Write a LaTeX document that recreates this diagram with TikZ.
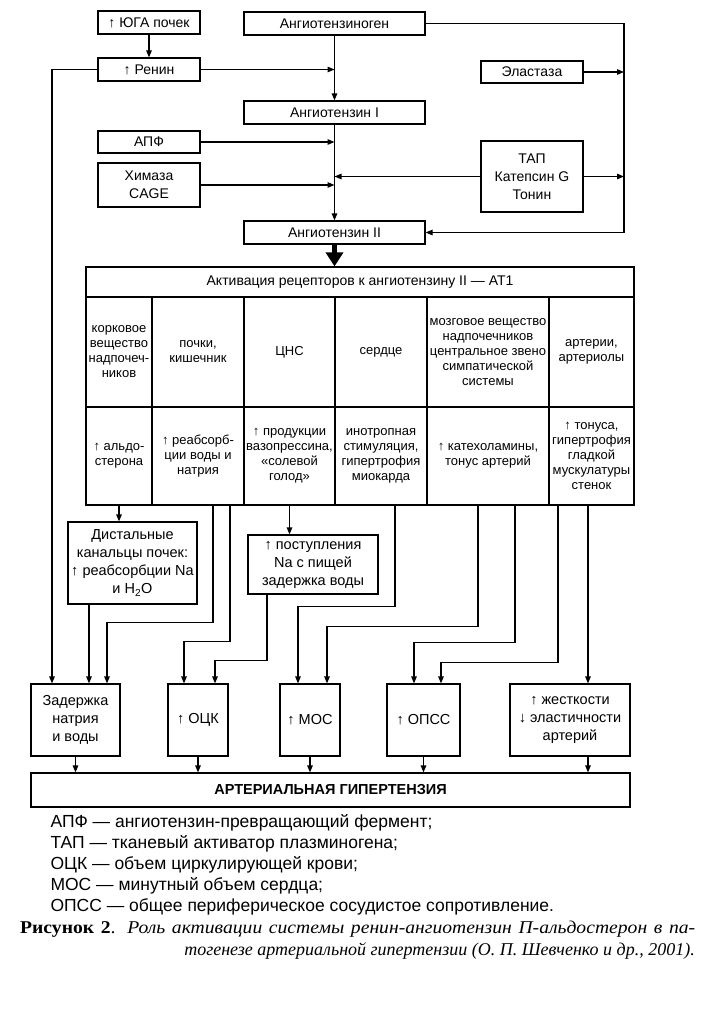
\documentclass[tikz,border=0pt]{standalone}
\usepackage{fontspec}
\setmainfont{Liberation Sans}
\newfontfamily\capfont{Liberation Serif}
\newfontfamily\capwide{Liberation Serif}[FakeStretch=1.09]
\usetikzlibrary{arrows.meta}
\newcommand{\boxfont}{\fontsize{14}{18}\selectfont}
\newcommand{\cellfont}{\fontsize{13}{15}\selectfont}
\newcommand{\midfont}{\fontsize{14.5}{18}\selectfont}
\newcommand{\legfont}{\fontsize{17.5}{21}\selectfont}
\tikzset{
  blk/.style={draw, line width=1.2pt, inner sep=1pt, align=center, font=\boxfont},
  cell/.style={blk, font=\cellfont},
  arr/.style={line width=1.2pt, -{Triangle[length=7pt,width=5.5pt]}},
}
\begin{document}
\begin{tikzpicture}[x=1pt,y=-1pt]
    \useasboundingbox (0,0) rectangle (714,1012);
    % cascade renin - angiotensin
    \node[blk, minimum width=102, minimum height=23] (yuga) at (149,22.5) {↑ ЮГА почек};
    \node[blk, minimum width=181, minimum height=23] (angen) at (334.5,23.5) {Ангиотензиноген};
    \node[blk, minimum width=102, minimum height=23] (renin) at (149,69.5) {↑ Ренин};
    \node[blk, minimum width=102, minimum height=22] (elast) at (532,72) {Эластаза};
    \node[blk, minimum width=181, minimum height=23] (ang1) at (334.5,112.5) {Ангиотензин I};
    \node[blk, minimum width=102, minimum height=22] (apf) at (149,142) {АПФ};
    \node[blk, minimum width=102, minimum height=44] (chym) at (149,185) {Химаза\\CAGE};
    \node[blk, minimum width=102, minimum height=71] (tap) at (532,176.5) {ТАП\\Катепсин G\\Тонин};
    \node[blk, minimum width=181, minimum height=23] (ang2) at (334.5,232.5) {Ангиотензин II};
    \coordinate (rt) at (624,23.5);

    \draw[arr] (yuga) -- (renin);
    \draw[arr] (angen) -- (ang1);
    \draw[arr] (ang1) -- (ang2);
    \draw[arr] (renin.east) -- (renin.east -| ang1.north);
    \draw[arr] (apf.east) -- (apf.east -| ang1.south);
    \draw[arr] (chym.east) -- (chym.east -| ang1.south);
    \draw[arr] (tap.west) -- (tap.west -| ang1.south);
    \draw[arr] (angen.east) -- (rt) |- (ang2.east);
    \draw[arr] (elast.east) -- (elast.east -| rt);
    \draw[arr] (tap.east) -- (tap.east -| rt);

    % AT1 receptors table
    \node[blk, minimum width=548, minimum height=30] (act) at (360,282) {Активация рецепторов к ангиотензину II — АТ1};
    \draw[line width=5pt, -{Triangle[length=14pt,width=17pt]}] (ang2.south) -- (ang2.south |- act.north);

    \node[cell, minimum width=66, minimum height=110] (o1) at (119,352) {корковое\\вещество\\надпочеч-\\ников};
    \node[cell, minimum width=92, minimum height=110] (o2) at (198,352) {почки,\\кишечник};
    \node[cell, minimum width=91, minimum height=110] (o3) at (289.5,352) {ЦНС};
    \node[cell, minimum width=92, minimum height=110] (o4) at (381,352) {сердце};
    \node[cell, minimum width=122, minimum height=110] (o5) at (488,352) {мозговое вещество\\надпочечников\\центральное звено\\симпатической\\системы};
    \node[cell, minimum width=85, minimum height=110] (o6) at (591.5,352) {артерии,\\артериолы};

    \node[cell, minimum width=66, minimum height=98] (f1) at (119,456) {↑ альдо-\\стерона};
    \node[cell, minimum width=92, minimum height=98] (f2) at (198,456) {↑ реабсорб-\\ции воды и\\натрия};
    \node[cell, minimum width=91, minimum height=98] (f3) at (289.5,456) {↑ продукции\\вазопрессина,\\«солевой\\голод»};
    \node[cell, minimum width=92, minimum height=98] (f4) at (381,456) {инотропная\\стимуляция,\\гипертрофия\\миокарда};
    \node[cell, minimum width=122, minimum height=98] (f5) at (488,456) {↑ катехоламины,\\тонус артерий};
    \node[cell, minimum width=85, minimum height=98] (f6) at (591.5,456) {↑ тонуса,\\гипертрофия\\гладкой\\мускулатуры\\стенок};

    % intermediate and resulting boxes
    \node[blk, font=\midfont, minimum width=129, minimum height=82] (dist) at (132.5,563) {Дистальные\\канальцы почек:\\↑ реабсорбции Na\\и H\textsubscript{2}O};
    \node[blk, font=\midfont, minimum width=130, minimum height=59] (post) at (313,564.5) {↑ поступления\\Na с пищей\\задержка воды};

    \node[blk, font=\midfont, minimum width=89, minimum height=72] (zad) at (75.5,720) {Задержка\\натрия\\и воды};
    \node[blk, font=\midfont, minimum width=60, minimum height=72] (ock) at (198,720) {↑ ОЦК};
    \node[blk, font=\midfont, minimum width=60, minimum height=72] (mos) at (310,720) {↑ МОС};
    \node[blk, font=\midfont, minimum width=73, minimum height=72] (opss) at (423.5,720) {↑ ОПСС};
    \node[blk, font=\midfont, minimum width=120, minimum height=72] (zhest) at (570,720) {↑ жесткости\\↓ эластичности\\артерий};
    \node[blk, font=\bfseries\midfont, minimum width=599, minimum height=34] (ag) at (330.5,790) {АРТЕРИАЛЬНАЯ ГИПЕРТЕНЗИЯ};

    \draw[arr] (f1.south) -- (f1.south |- dist.north);
    \draw[arr] (f3.south) -- (f3.south |- post.north);
    \draw[arr] (renin.west) -| ([xshift=-23.5]zad.north);
    \draw[arr] ([xshift=-43.5]dist.south) -- ([xshift=-43.5]dist.south |- zad.north);
    \draw[arr] ([xshift=15]f2.south) -- ++(0,117) -| ([xshift=31.5]zad.north);
    \draw[arr] ([xshift=32]f2.south) -- ++(0,136) -| ([xshift=-14]ock.north);
    \draw[arr] ([xshift=-46]post.south) -- ++(0,66) -| ([xshift=17]ock.north);
    \draw[arr] ([xshift=14]f4.south) -- ++(0,101) -| ([xshift=-12]mos.north);
    \draw[arr] ([xshift=-10]f5.south) -- ++(0,121) -| ([xshift=17]mos.north);
    \draw[arr] ([xshift=27]f5.south) -- ++(0,137) -| ([xshift=-9.5]opss.north);
    \draw[arr] ([xshift=-33.5]f6.south) -- ++(0,157) -| ([xshift=17.5]opss.north);
    \draw[arr] ([xshift=-3.5]f6.south) -- ([xshift=-3.5]f6.south |- zhest.north);

    \draw[arr] (zad.south) -- (zad.south |- ag.north);
    \draw[arr] (ock.south) -- (ock.south |- ag.north);
    \draw[arr] (mos.south) -- (mos.south |- ag.north);
    \draw[arr] (opss.south) -- (opss.south |- ag.north);
    \draw[arr] ([xshift=18]zhest.south) -- ([xshift=18]zhest.south |- ag.north);

    % legend and caption
    \node[anchor=west, align=left, font=\legfont] (leg) at (47,865) {АПФ — ангиотензин-превращающий фермент;\\ТАП — тканевый активатор плазминогена;\\ОЦК — объем циркулирующей крови;\\МОС — минутный объем сердца;\\ОПСС — общее периферическое сосудистое сопротивление.};
    \node[anchor=west, inner sep=0pt, font=\capwide\fontsize{18}{22}\selectfont] (cap1) at (20,929) {\hbox to 675pt{\textbf{Рисунок 2}. \textit{Роль активации системы ренин-ангиотензин П-альдостерон в па-}}};
    \node[anchor=east, inner sep=0pt, font=\capfont\fontsize{18}{22}\selectfont] (cap2) at (695,951) {\textit{тогенезе артериальной гипертензии (О. П. Шевченко и др., 2001).}};
\end{tikzpicture}
\end{document}
